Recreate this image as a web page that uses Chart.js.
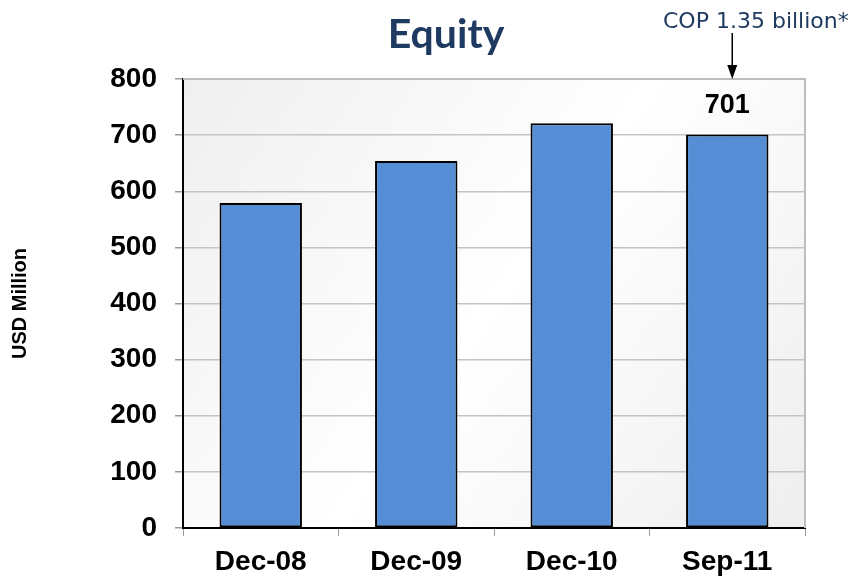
<!DOCTYPE html>
<html>
<head>
<meta charset="utf-8">
<script src="https://cdn.jsdelivr.net/npm/chart.js@4"></script>
<style>
  html, body { margin: 0; padding: 0; background: #fff; }
  #wrap { width: 855px; height: 580px; }
</style>
</head>
<body>
<div id="wrap"><canvas id="equityChart"></canvas></div>
<script>
const periods = ['Dec-08', 'Dec-09', 'Dec-10', 'Sep-11'];
const equity = [579, 654, 721, 701];
const yTicks = [0, 100, 200, 300, 400, 500, 600, 700, 800];
const titleText = 'Equity';
const noteText = 'COP 1.35 billion*';
const navy = '#1f3a60';
const tickFont = { family: '"Liberation Sans", Arial, sans-serif', size: 28, weight: 'bold' };

// plot background, borders, title, the arrow note and the last value label
const decorations = {
  id: 'decorations',
  beforeDraw(chart) {
    const { ctx, chartArea: a } = chart;
    const g = ctx.createLinearGradient(a.left, a.top, a.right, a.bottom);
    g.addColorStop(0, '#efefef');
    g.addColorStop(0.5, '#ffffff');
    g.addColorStop(1, '#eeeeee');
    ctx.save();
    ctx.fillStyle = g;
    ctx.fillRect(a.left, a.top, a.right - a.left, a.bottom - a.top);
    ctx.restore();
  },
  beforeDatasetsDraw(chart) {
    const { ctx, chartArea: a } = chart;
    ctx.save();
    ctx.strokeStyle = '#bdbdbd';
    ctx.lineWidth = 2;
    ctx.beginPath();
    ctx.moveTo(a.left, a.top);
    ctx.lineTo(a.right, a.top);
    ctx.lineTo(a.right, a.bottom);
    ctx.stroke();
    ctx.restore();
  },
  afterDraw(chart) {
    const { ctx, chartArea: a } = chart;
    const meta = chart.getDatasetMeta(0);
    const last = meta.data[meta.data.length - 1];
    ctx.save();
    // title
    ctx.fillStyle = navy;
    ctx.font = 'bold 41px Lato';
    ctx.textAlign = 'center';
    ctx.textBaseline = 'alphabetic';
    ctx.fillText(titleText, 446, 48);
    // note text
    ctx.font = '22px "DejaVu Sans"';
    ctx.textAlign = 'left';
    ctx.fillText(noteText, 663, 28);
    // arrow down to the last bar
    const ax = last.x + 5;
    ctx.strokeStyle = '#000';
    ctx.fillStyle = '#000';
    ctx.lineWidth = 1.5;
    ctx.beginPath();
    ctx.moveTo(ax, 33);
    ctx.lineTo(ax, a.top - 12);
    ctx.stroke();
    ctx.beginPath();
    ctx.moveTo(ax - 5, a.top - 14);
    ctx.lineTo(ax + 5, a.top - 14);
    ctx.lineTo(ax, a.top);
    ctx.closePath();
    ctx.fill();
    // value label above the last bar
    ctx.font = 'bold 27px "Liberation Sans", Arial, sans-serif';
    ctx.textAlign = 'center';
    ctx.textBaseline = 'middle';
    ctx.fillText(String(equity[equity.length - 1]), last.x, last.y - 29);
    ctx.restore();
  }
};

new Chart(document.getElementById('equityChart'), {
  type: 'bar',
  data: {
    labels: periods,
    datasets: [{
      label: 'Equity',
      data: equity,
      backgroundColor: '#558ed5',
      borderColor: '#000000',
      borderWidth: 2,
      borderSkipped: false,
      barPercentage: 0.53,
      categoryPercentage: 1
    }]
  },
  options: {
    responsive: true,
    maintainAspectRatio: false,
    animation: false,
    layout: { padding: { top: 79, right: 50, left: 0, bottom: 0 } },
    plugins: {
      legend: { display: false },
      tooltip: { enabled: false },
      title: { display: false }
    },
    scales: {
      x: {
        afterFit: s => { s.height = 52; },
        grid: { display: true, drawOnChartArea: false, offset: true, tickLength: 8, color: '#9a9a9a' },
        border: { display: true, color: '#000000', width: 2 },
        ticks: { color: '#000', padding: 9, font: tickFont }
      },
      y: {
        min: yTicks[0],
        max: yTicks[yTicks.length - 1],
        afterFit: s => { s.width = 183; },
        afterBuildTicks: s => { s.ticks = yTicks.map(v => ({ value: v })); },
        grid: { color: '#c4c4c4', tickColor: '#9a9a9a', tickLength: 8, lineWidth: 1.5 },
        border: { display: true, color: '#000000', width: 2 },
        ticks: { color: '#000', padding: 18, font: tickFont },
        title: {
          display: true,
          text: 'USD Million',
          color: '#000',
          padding: { top: 8, bottom: 0 },
          font: { family: '"Liberation Sans", Arial, sans-serif', size: 20, weight: 'bold' }
        }
      }
    }
  },
  plugins: [decorations]
});
</script>
</body>
</html>
